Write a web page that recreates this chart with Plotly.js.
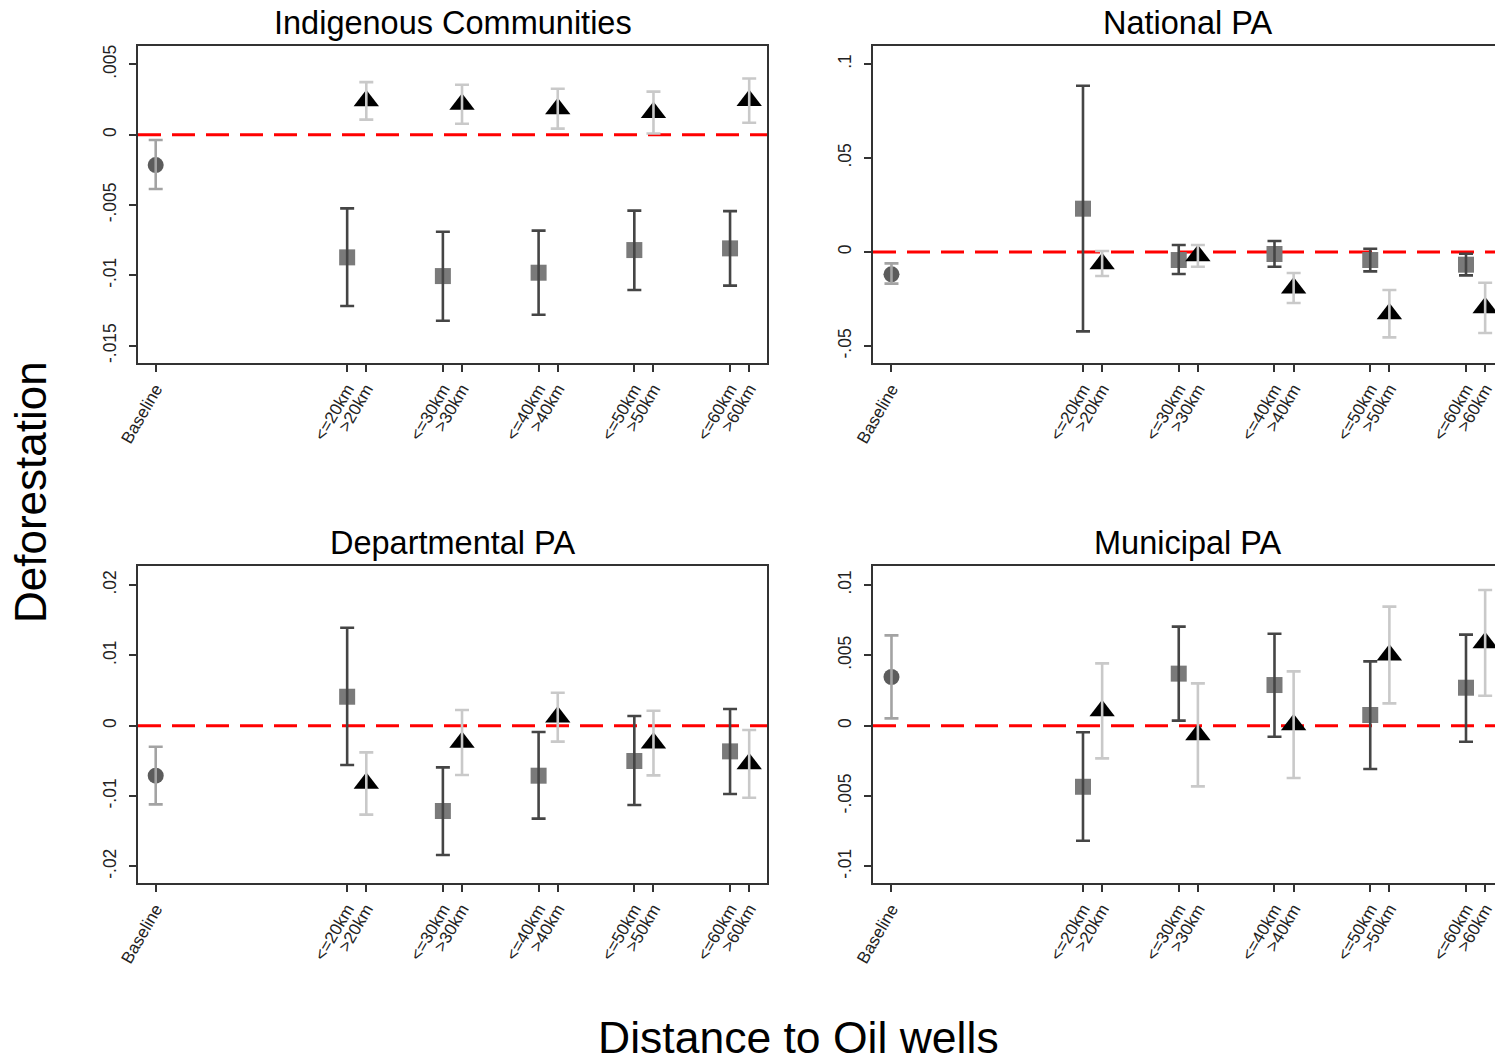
<!DOCTYPE html>
<html>
<head>
<meta charset="utf-8">
<script src="https://cdn.plot.ly/plotly-3.0.1.min.js"></script>
<style>
html,body{margin:0;padding:0;overflow:hidden;background:#fff;width:1495px;height:1063px;}
#chart{width:1520px;height:1063px;}
</style>
</head>
<body>
<div id="chart"></div>
<script>
// ---------- data ----------
const categories = ["Baseline", "&lt;=20km", "&gt;20km", "&lt;=30km", "&gt;30km", "&lt;=40km", "&gt;40km", "&lt;=50km", "&gt;50km", "&lt;=60km", "&gt;60km"];
const distances = ["20km", "30km", "40km", "50km", "60km"];
const panelTitles = ["Indigenous Communities", "National PA", "Departmental PA", "Municipal PA"];

// Indigenous Communities
const icBase = [-0.00216], icBaseLo = [-0.00386], icBaseHi = [-0.00038];
const icLe = [-0.00872, -0.01005, -0.00981, -0.00820, -0.00808];
const icLeLo = [-0.01218, -0.01322, -0.01280, -0.01104, -0.01073];
const icLeHi = [-0.00524, -0.00690, -0.00682, -0.00540, -0.00543];
const icGt = [0.00241, 0.00217, 0.00185, 0.00158, 0.00243];
const icGtLo = [0.00107, 0.00078, 0.00043, 0.00009, 0.00085];
const icGtHi = [0.00374, 0.00355, 0.00327, 0.00306, 0.00400];

// National PA
const npBase = [-0.01188], npBaseLo = [-0.01684], npBaseHi = [-0.00603];
const npLe = [0.02305, -0.00426, -0.00106, -0.00426, -0.00674];
const npLeLo = [-0.04220, -0.01170, -0.00780, -0.01028, -0.01241];
const npLeHi = [0.08848, 0.00372, 0.00585, 0.00177, -0.00089];
const npGt = [-0.00620, -0.00195, -0.01915, -0.03280, -0.02960];
const npGtLo = [-0.01277, -0.00780, -0.02713, -0.04539, -0.04309];
const npGtHi = [0.00053, 0.00372, -0.01117, -0.02021, -0.01631];

// Departmental PA
const dpBase = [-0.00711], dpBaseLo = [-0.01118], dpBaseHi = [-0.00299];
const dpLe = [0.00412, -0.01213, -0.00711, -0.00502, -0.00365];
const dpLeLo = [-0.00559, -0.01839, -0.01322, -0.01128, -0.00972];
const dpLeHi = [0.01393, -0.00592, -0.00090, 0.00137, 0.00237];
const dpGt = [-0.00820, -0.00237, 0.00123, -0.00246, -0.00540];
const dpGtLo = [-0.01265, -0.00701, -0.00227, -0.00706, -0.01024];
const dpGtHi = [-0.00379, 0.00223, 0.00469, 0.00213, -0.00062];

// Municipal PA
const mpBase = [0.00346], mpBaseLo = [0.00052], mpBaseHi = [0.00642];
const mpLe = [-0.00434, 0.00370, 0.00289, 0.00076, 0.00270];
const mpLeLo = [-0.00818, 0.00036, -0.00078, -0.00308, -0.00114];
const mpLeHi = [-0.00047, 0.00704, 0.00654, 0.00457, 0.00647];
const mpGt = [0.00107, -0.00064, 0.00007, 0.00502, 0.00590];
const mpGtLo = [-0.00232, -0.00431, -0.00372, 0.00159, 0.00213];
const mpGtHi = [0.00443, 0.00301, 0.00386, 0.00846, 0.00964];

// y tick labels
const yTickVals = [
  [0.005, 0, -0.005, -0.01, -0.015],
  [0.1, 0.05, 0, -0.05],
  [0.02, 0.01, 0, -0.01, -0.02],
  [0.01, 0.005, 0, -0.005, -0.01]
];
const yTickText = [
  [".005", "0", "-.005", "-.01", "-.015"],
  [".1", ".05", "0", "-.05"],
  [".02", ".01", "0", "-.01", "-.02"],
  [".01", ".005", "0", "-.005", "-.01"]
];

// ---------- layout helpers ----------
const W = 1520, H = 1063;
const basePos = [0];
const lePos = distances.map((d, i) => i + 2);
const gtPos = distances.map((d, i) => i + 2.2);
const tickPos = [0];
distances.forEach((d, i) => { tickPos.push(i + 2); tickPos.push(i + 2.2); });

const panels = [
  {b: icBase, bl: icBaseLo, bh: icBaseHi, le: icLe, lel: icLeLo, leh: icLeHi, gt: icGt, gtl: icGtLo, gth: icGtHi,
   px: [138, 767], py: [46, 363.3], yr: [-0.01625, 0.006306], xr: [-0.185, 6.386]},
  {b: npBase, bl: npBaseLo, bh: npBaseHi, le: npLe, lel: npLeLo, leh: npLeHi, gt: npGt, gtl: npGtLo, gth: npGtHi,
   px: [873, 1502], py: [46, 363.3], yr: [-0.0592, 0.1096], xr: [-0.193, 6.376]},
  {b: dpBase, bl: dpBaseLo, bh: dpBaseHi, le: dpLe, lel: dpLeLo, leh: dpLeHi, gt: dpGt, gtl: dpGtLo, gth: dpGtHi,
   px: [138, 767], py: [566, 883.3], yr: [-0.02241, 0.02271], xr: [-0.185, 6.386]},
  {b: mpBase, bl: mpBaseLo, bh: mpBaseHi, le: mpLe, lel: mpLeLo, leh: mpLeHi, gt: mpGt, gtl: mpGtLo, gth: mpGtHi,
   px: [873, 1502], py: [566, 883.3], yr: [-0.0112, 0.01135], xr: [-0.193, 6.376]}
];

const traces = [];
const FONT = "Liberation Sans, Arial, sans-serif";
const layout = {
  width: W, height: H,
  margin: {l: 0, r: 0, t: 0, b: 0},
  paper_bgcolor: "#fff", plot_bgcolor: "#fff",
  showlegend: false,
  font: {family: FONT, color: "#000"},
  shapes: [], annotations: []
};

function errs(est, lo, hi) {
  return {type: "data", symmetric: false,
    array: est.map((v, i) => hi[i] - v), arrayminus: est.map((v, i) => v - lo[i])};
}

panels.forEach((p, k) => {
  const n = k + 1;
  const xa = "x" + (n === 1 ? "" : n), ya = "y" + (n === 1 ? "" : n);
  const common = {xaxis: xa, yaxis: ya, mode: "markers", hoverinfo: "skip", cliponaxis: false};
  // markers
  traces.push(Object.assign({}, common, {x: basePos, y: p.b, marker: {symbol: "circle", size: 16, color: "#5c5c5c"}}));
  traces.push(Object.assign({}, common, {x: lePos, y: p.le, marker: {symbol: "square", size: 16, color: "#7a7a7a"}}));
  traces.push(Object.assign({}, common, {x: gtPos, y: p.gt, marker: {symbol: "triangle-up", size: 22, color: "#000"}}));
  // error bars drawn on top
  const tr = "rgba(0,0,0,0)";
  traces.push(Object.assign({}, common, {x: basePos, y: p.b, marker: {size: 1, color: tr},
    error_y: Object.assign(errs(p.b, p.bl, p.bh), {color: "#a3a3a3", thickness: 2.6, width: 7})}));
  traces.push(Object.assign({}, common, {x: lePos, y: p.le, marker: {size: 1, color: tr},
    error_y: Object.assign(errs(p.le, p.lel, p.leh), {color: "#454545", thickness: 2.6, width: 7})}));
  traces.push(Object.assign({}, common, {x: gtPos, y: p.gt, marker: {size: 1, color: tr},
    error_y: Object.assign(errs(p.gt, p.gtl, p.gth), {color: "#c9c9c9", thickness: 2.6, width: 7})}));

  const axLine = {showline: true, mirror: true, linecolor: "#333", linewidth: 2, showgrid: false, zeroline: false,
    ticks: "outside", ticklen: 7, tickwidth: 2, tickcolor: "#333"};
  layout["xaxis" + (n === 1 ? "" : n)] = Object.assign({}, axLine, {
    anchor: ya, domain: [p.px[0] / W, p.px[1] / W], range: p.xr,
    tickmode: "array", tickvals: tickPos, ticktext: categories, tickangle: -60,
    tickfont: {size: 17, color: "#222", family: FONT}
  });
  layout["yaxis" + (n === 1 ? "" : n)] = Object.assign({}, axLine, {
    anchor: xa, domain: [1 - p.py[1] / H, 1 - p.py[0] / H], range: p.yr,
    tickmode: "array", tickvals: yTickVals[k], ticktext: yTickText[k], tickangle: -90,
    ticklabelstandoff: 6,
    tickfont: {size: 17.5, color: "#222", family: FONT}
  });
  layout.shapes.push({type: "line", xref: xa + " domain", yref: ya, x0: 0, x1: 1, y0: 0, y1: 0,
    line: {color: "#ff0000", width: 3, dash: "23px,11px"}, layer: "below"});
  layout.annotations.push({text: panelTitles[k], xref: "paper", yref: "paper",
    x: (p.px[0] + p.px[1]) / 2 / W, y: 1 - (p.py[0] - 3) / H, xanchor: "center", yanchor: "bottom",
    showarrow: false, font: {size: 32.5, color: "#000"}});
});

layout.annotations.push({text: "Deforestation", xref: "paper", yref: "paper", x: 31 / W, y: 1 - 492 / H,
  xanchor: "center", yanchor: "middle", textangle: -90, showarrow: false, font: {size: 44, color: "#000"}});
layout.annotations.push({text: "Distance to Oil wells", xref: "paper", yref: "paper", x: 798 / W, y: 1 - 1037 / H,
  xanchor: "center", yanchor: "middle", showarrow: false, font: {size: 44.5, color: "#000"}});

Plotly.newPlot("chart", traces, layout, {staticPlot: true, displayModeBar: false});
</script>
</body>
</html>
